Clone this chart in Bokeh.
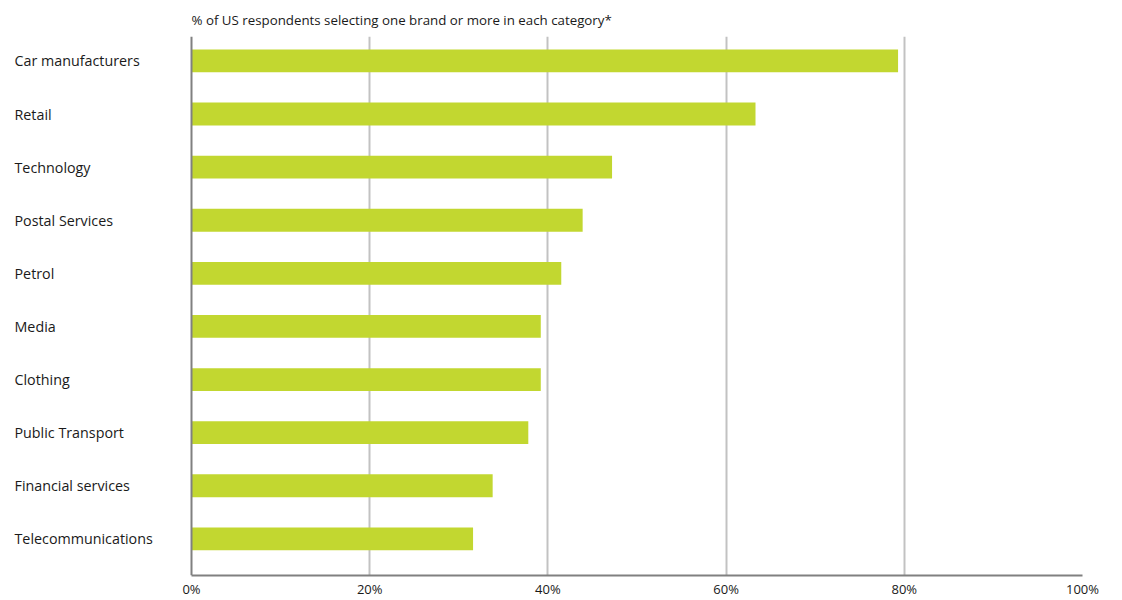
from bokeh.plotting import figure
from bokeh.models import ColumnDataSource, Range1d, FixedTicker, CustomJSTickFormatter
from bokeh.core.properties import value
from bokeh.embed import file_html
from bokeh.resources import INLINE

categories = ["Car manufacturers", "Retail", "Technology", "Postal Services", "Petrol",
              "Media", "Clothing", "Public Transport", "Financial services", "Telecommunications"]
values = [79.3, 63.3, 47.2, 43.9, 41.5, 39.2, 39.2, 37.8, 33.8, 31.6]
x_ticks = [0, 20, 40, 60, 80, 100]
title_text = "% of US respondents selecting one brand or more in each category*"

n = len(categories)
ypos = [n - 1 - i for i in range(n)]

# layout: plot area from 191px (0%) to 1082px (100%) within a frame starting at 0
W = 1122
left_px, right_px = 191, 1082
x_start = -100.0 * left_px / (right_px - left_px)
label_x = [x_start] * n

src = ColumnDataSource(dict(cat=categories, val=values, y=ypos, lx=label_x))

p = figure(width=W, height=600, output_backend="svg", toolbar_location=None,
           x_range=Range1d(x_start, 100), y_range=Range1d(-0.69, n - 1 + 0.46),
           min_border_left=0, min_border_right=W - right_px, min_border_top=36, min_border_bottom=20)

p.hbar(y="y", right="val", left=0, height=0.43, source=src, color="#C2D730", line_color=None)

p.text(x="lx", y="y", text="cat", source=src, x_offset=14,
       text_baseline="middle", text_align="left",
       text_font=value("Open Sans"), text_font_size=value("14.3px"), text_color="#1a1a1a")

p.title.text = title_text
p.title.text_font = "Open Sans"
p.title.text_font_size = "13.3px"
p.title.text_font_style = "normal"
p.title.text_color = "#1a1a1a"
p.title.align = "left"
p.title.offset = left_px
p.title.standoff = 15

p.outline_line_color = None
p.ygrid.visible = False
p.xgrid.ticker = FixedTicker(ticks=x_ticks[1:])
p.xgrid.grid_line_color = "#c2c2c2"
p.xgrid.grid_line_width = 2

p.xaxis.ticker = FixedTicker(ticks=x_ticks)
p.xaxis.bounds = (0, 100)
p.xaxis.formatter = CustomJSTickFormatter(code="return tick + '%';")
p.xaxis.axis_line_color = "#808080"
p.xaxis.axis_line_width = 2
p.xaxis.major_tick_line_color = None
p.xaxis.minor_tick_line_color = None
p.xaxis.major_tick_out = 0
p.xaxis.major_tick_in = 0
p.xaxis.major_label_text_font = "Open Sans"
p.xaxis.major_label_text_font_size = "13px"
p.xaxis.major_label_text_color = "#1a1a1a"
p.xaxis.major_label_standoff = 4

p.yaxis.fixed_location = 0
p.yaxis.ticker = FixedTicker(ticks=[])
p.yaxis.axis_line_color = "#808080"
p.yaxis.axis_line_width = 2
p.yaxis.major_tick_line_color = None
p.yaxis.minor_tick_line_color = None
p.yaxis.major_tick_out = 0

open("out.html", "w").write(file_html(p, INLINE))
